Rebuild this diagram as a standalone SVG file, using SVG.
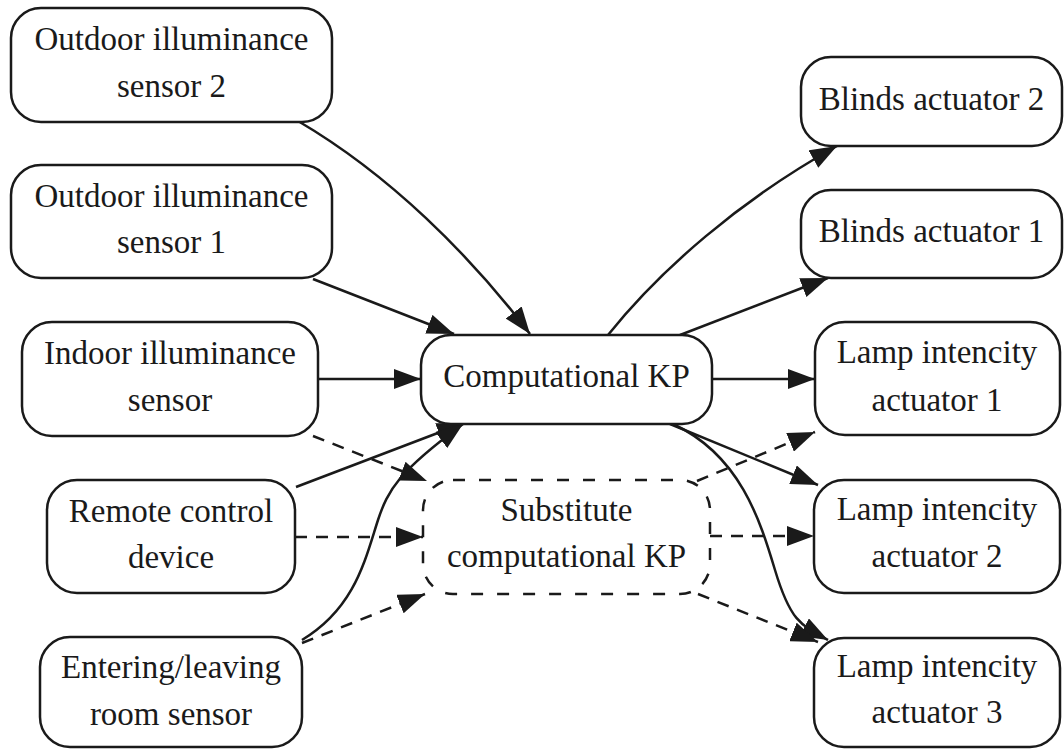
<svg xmlns="http://www.w3.org/2000/svg" width="1064" height="749" viewBox="0 0 1064 749">
<style>
.box{fill:#fff;stroke:#1a1a1a;stroke-width:2.5}
.dbox{fill:#fff;stroke:#1a1a1a;stroke-width:2.5;stroke-dasharray:12 14}
.t{font-family:"Liberation Serif","Times New Roman",serif;font-size:33px;fill:#1a1a1a;text-anchor:middle}
.e{fill:none;stroke:#1a1a1a;stroke-width:2.5;marker-end:url(#arr)}
.d{stroke-dasharray:12 9}
</style>
<defs>
<marker id="arr" viewBox="0 0 27 20" refX="27" refY="10" markerWidth="27" markerHeight="20" markerUnits="userSpaceOnUse" orient="auto">
<path d="M0,0 L27,10 L0,20 z" fill="#1a1a1a" stroke="none"/>
</marker>
</defs>
<rect width="1064" height="749" fill="#fff"/>
<g id="connectors">
<path class="e" d="M298,121 C390,175 470,255 530,334"/>
<path class="e" d="M313,279 L454,334"/>
<path class="e" d="M318,379 L421,379"/>
<path class="e d" d="M313,436 L427,481"/>
<path class="e" d="M296,487 L464,423"/>
<path class="e d" d="M295,537 L423,537"/>
<path class="e" d="M302,640 C355,608 365,560 378,520 C388,490 398,472 463,424"/>
<path class="e d" d="M302,643 L425,594"/>
<path class="e" d="M608,335 C660,270 740,200 837,146"/>
<path class="e" d="M680,335 L828,278"/>
<path class="e" d="M712,379 L815,379"/>
<path class="e" d="M670,424 L818,485"/>
<path class="e" d="M673,424 C740,455 760,520 775,570 S800,625 828,640"/>
<path class="e d" d="M697,481 L815,432"/>
<path class="e d" d="M710,536 L814,536"/>
<path class="e d" d="M698,594 L818,642"/>
</g>
<g id="ois2"><rect class="box" x="11" y="8" width="321" height="114" rx="30"/><text class="t" x="171.5" y="50">Outdoor illuminance</text><text class="t" x="171.5" y="97">sensor 2</text></g>
<g id="ois1"><rect class="box" x="11" y="165" width="321" height="113" rx="30"/><text class="t" x="171.5" y="207">Outdoor illuminance</text><text class="t" x="171.5" y="253">sensor 1</text></g>
<g id="iis"><rect class="box" x="22" y="322" width="296" height="114" rx="30"/><text class="t" x="170" y="364">Indoor illuminance</text><text class="t" x="170" y="411">sensor</text></g>
<g id="rcd"><rect class="box" x="47" y="480" width="248" height="113" rx="30"/><text class="t" x="171" y="522">Remote control</text><text class="t" x="171" y="568">device</text></g>
<g id="elrs"><rect class="box" x="40" y="637" width="262" height="110" rx="30"/><text class="t" x="171" y="678">Entering/leaving</text><text class="t" x="171" y="725">room sensor</text></g>
<g id="ckp"><rect class="box" x="421" y="335" width="291" height="89" rx="30"/><text class="t" x="566.5" y="387">Computational KP</text></g>
<g id="skp"><rect class="dbox" x="423" y="480" width="287" height="114" rx="30"/><text class="t" x="566.5" y="521">Substitute</text><text class="t" x="566.5" y="567">computational KP</text></g>
<g id="ba2"><rect class="box" x="801" y="57" width="261" height="89" rx="30"/><text class="t" x="931.5" y="110">Blinds actuator 2</text></g>
<g id="ba1"><rect class="box" x="801" y="190" width="261" height="88" rx="30"/><text class="t" x="931.5" y="242">Blinds actuator 1</text></g>
<g id="lia1"><rect class="box" x="815" y="322" width="245" height="113" rx="30"/><text class="t" x="937" y="363">Lamp intencity</text><text class="t" x="937" y="411">actuator 1</text></g>
<g id="lia2"><rect class="box" x="814" y="480" width="246" height="113" rx="30"/><text class="t" x="937" y="520">Lamp intencity</text><text class="t" x="937" y="567">actuator 2</text></g>
<g id="lia3"><rect class="box" x="814" y="638" width="246" height="109" rx="30"/><text class="t" x="937" y="677">Lamp intencity</text><text class="t" x="937" y="723">actuator 3</text></g>
</svg>
